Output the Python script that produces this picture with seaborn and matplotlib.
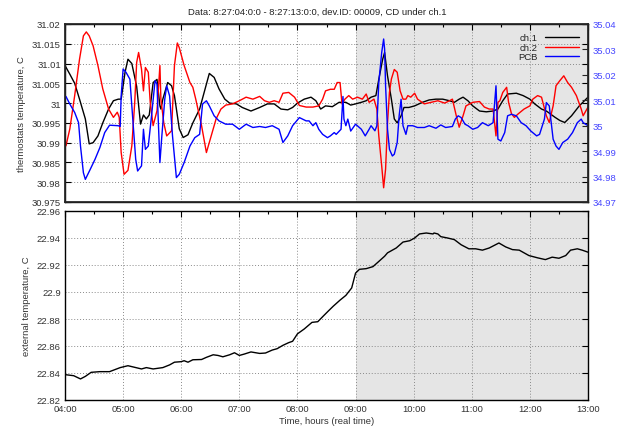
import numpy as np
import pandas as pd
import seaborn as sns
import matplotlib
matplotlib.use("Agg")
import matplotlib.pyplot as plt
from matplotlib.ticker import MultipleLocator, FuncFormatter

# ---------------- data (minutes after 04:00, values) ----------------
ch1_min = [0, 5, 10, 15, 21, 25, 29, 34, 39, 45, 50, 55, 58, 62, 65, 69, 74, 78, 81, 84, 87, 91, 95, 98, 99,
           101, 106, 110, 113, 118, 122, 127, 132, 139, 144, 149, 154, 159, 165, 170, 177, 183, 192, 201,
           209, 216, 223, 230, 235, 240, 247, 254, 259, 264, 269, 276, 283, 290, 295, 300, 306, 311, 316,
           321, 324, 328, 330, 333, 337, 340, 343, 347, 350, 355, 361, 369, 376, 383, 390, 397, 402, 407,
           411, 416, 421, 428, 435, 442, 447, 452, 457, 466, 473, 480, 485, 492, 497, 506, 511, 516, 523,
           531, 540]
ch1_val = [31.0095, 31.0073, 31.005, 31.001, 30.996, 30.9897, 30.990, 30.9917, 30.995, 30.9985, 31.0006,
           31.001, 31.001, 31.0078, 31.0111, 31.010, 31.0042, 30.9947, 30.997, 30.996, 30.997, 31.0052,
           31.006, 30.9993, 30.9985, 31.001, 31.0052, 31.0044, 31.0019, 30.9935, 30.9913, 30.992, 30.995,
           30.9985, 31.003, 31.0075, 31.0065, 31.0036, 31.001, 31.000, 30.9998, 30.9989, 30.998, 30.9989,
           30.9998, 30.9998, 30.9985, 30.9983, 30.9989, 31.0, 31.001, 31.0015, 31.0006, 30.9985, 30.9993,
           30.9991, 31.0002, 31.0002, 30.9995, 30.9998, 31.0002, 31.0006, 31.0015, 31.0019, 31.006, 31.0111,
           31.0128, 31.0069, 31.001, 30.996, 30.995, 30.9968, 30.9989, 30.9989, 30.9993, 31.0002, 31.0008,
           31.001, 31.001, 31.0006, 31.0002, 31.001, 31.0015, 31.0006, 30.9993, 30.998, 30.9978, 30.998,
           30.9985, 31.0006, 31.0023, 31.0025, 31.0019, 31.001, 30.9998, 30.9985, 30.998, 30.9964, 30.9956,
           30.9951, 30.9968, 30.9993, 31.0015]

ch2_min = [1, 5, 10, 15, 19, 22, 25, 29, 34, 39, 45, 50, 54, 56, 58, 61, 65, 69, 72, 74, 76, 79, 81, 83, 86,
           88, 91, 95, 98, 99, 102, 105, 110, 113, 116, 118, 123, 129, 132, 135, 141, 146, 151, 156, 161,
           166, 173, 180, 187, 194, 201, 206, 211, 216, 221, 225, 231, 237, 242, 249, 256, 262, 266, 269,
           274, 278, 281, 284, 286, 289, 293, 297, 302, 307, 311, 314, 319, 322, 324, 327, 329, 331, 333,
           335, 337, 340, 343, 346, 349, 352, 354, 357, 361, 364, 371, 378, 385, 392, 397, 400, 404, 407,
           411, 414, 421, 428, 433, 438, 442, 445, 447, 449, 452, 456, 458, 461, 464, 468, 474, 480, 483,
           488, 492, 497, 500, 504, 507, 511, 515, 519, 523, 528, 533, 535, 540]
ch2_val = [30.9892, 30.9935, 31.0019, 31.0111, 31.017, 31.018, 31.017, 31.0145, 31.0095, 31.0036, 30.9985,
           30.9964, 30.9977, 30.9964, 30.9875, 30.982, 30.983, 30.9892, 31.0002, 31.0103, 31.0128, 31.0086,
           31.0031, 31.009, 31.0078, 31.0002, 30.9943, 30.9981, 31.0095, 31.001, 30.995, 30.9917, 30.993,
           31.0095, 31.0152, 31.014, 31.0095, 31.0052, 31.004, 31.001, 30.9943, 30.9875, 30.9917, 30.996,
           30.9985, 30.9995, 30.9998, 31.0006, 31.0015, 31.001, 31.0017, 31.0006, 31.0002, 31.0006, 31.0002,
           31.0025, 31.0027, 31.0015, 30.9994, 30.999, 30.999, 30.9993, 31.001, 31.0031, 31.0035, 31.0035,
           31.0052, 31.0052, 30.9998, 31.001, 31.0019, 31.001, 31.0015, 31.001, 31.0023, 31.0002, 31.001,
           30.9985, 30.9917, 30.9841, 30.9786, 30.9833, 30.995, 31.0027, 31.0061, 31.0085, 31.0078, 31.0031,
           31.001, 31.001, 31.0019, 31.0015, 31.0025, 31.001, 30.9998, 31.0002, 31.0006, 31.0, 31.0006,
           31.001, 30.9968, 30.9939, 30.9968, 30.9993, 31.0002, 31.0004, 30.999, 30.9985, 30.9985, 30.9917,
           31.0002, 31.0006, 31.0027, 31.004, 31.0002, 30.9973, 30.9964, 30.9973, 30.9985, 30.9993, 31.001,
           31.0019, 31.0015, 30.9968, 30.9951, 30.9993, 31.0044, 31.0057, 31.0069, 31.0052, 31.004, 31.0019,
           30.9985, 30.9968, 30.999]

pcb_min = [1, 5, 10, 14, 16, 19, 21, 26, 31, 36, 41, 46, 55, 57, 58, 60, 63, 67, 70, 73, 75, 79, 81, 83, 86,
           89, 93, 95, 96, 98, 100, 103, 105, 108, 111, 115, 118, 123, 129, 134, 139, 142, 146, 149, 154,
           159, 166, 173, 180, 187, 194, 201, 207, 214, 221, 225, 230, 235, 242, 249, 252, 256, 259, 262,
           266, 271, 274, 278, 280, 285, 287, 288, 290, 292, 295, 300, 306, 310, 314, 316, 320, 322, 324,
           327, 329, 330, 331, 333, 335, 338, 340, 343, 345, 347, 349, 352, 354, 359, 364, 371, 376, 383,
           388, 393, 400, 403, 406, 409, 413, 416, 421, 426, 431, 437, 442, 445, 447, 450, 454, 457, 461,
           466, 471, 476, 481, 487, 490, 495, 497, 500, 504, 507, 510, 514, 519, 524, 529, 533, 535, 540]
pcb_val = [35.0115, 35.0085, 35.0052, 35.0012, 34.992, 34.9815, 34.9789, 34.9828, 34.9868, 34.9914, 34.9973,
           35.0002, 35.0, 34.9997, 35.0117, 35.0223, 35.021, 35.0183, 35.0026, 34.9868, 34.9822, 34.9842,
           34.9986, 34.9907, 34.992, 35.0026, 35.0177, 35.0163, 35.0052, 34.9855, 34.996, 35.0104, 35.0157,
           35.0117, 34.996, 34.9796, 34.9809, 34.9855, 34.992, 34.9953, 34.9966, 35.0085, 35.0098, 35.0078,
           35.0039, 35.0019, 35.0006, 35.0006, 34.9986, 35.0006, 34.9993, 34.9997, 34.9993, 35.0, 34.9986,
           34.9934, 34.996, 35.0, 35.0032, 35.0019, 35.0019, 35.0, 35.0012, 34.9986, 34.9966, 34.9953,
           34.996, 34.9973, 34.9966, 34.9986, 35.0115, 35.0026, 35.0, 35.0026, 34.9979, 35.0006, 34.9986,
           34.996, 34.9986, 35.0, 34.998, 35.0, 35.017, 35.0288, 35.0341, 35.0301, 35.0157, 34.9986, 34.9907,
           34.9881, 34.9888, 34.9934, 35.0039, 35.0104, 35.0, 34.9966, 35.0, 35.0, 34.9993, 34.9993, 35.0,
           34.999, 35.0003, 34.9993, 34.9997, 35.0026, 35.0039, 35.0032, 35.0006, 35.0, 34.9986, 34.9993,
           35.0012, 35.0, 35.0012, 35.0157, 34.9947, 34.994, 34.9973, 35.0039, 35.0045, 35.0039, 35.0012,
           35.0, 34.9979, 34.996, 34.9966, 35.0026, 35.0091, 35.0078, 34.9947, 34.992, 34.9907, 34.9934,
           34.9947, 34.9973, 35.0012, 35.0026, 35.0012, 35.0]

ext_min = [0, 9, 16, 21, 27, 36, 46, 57, 65, 72, 79, 84, 91, 101, 108, 113, 120, 123, 127, 132, 141, 146,
           153, 158, 163, 170, 175, 180, 185, 192, 201, 207, 214, 219, 225, 231, 235, 240, 247, 255, 261,
           267, 272, 277, 284, 290, 296, 300, 304, 311, 318, 323, 330, 333, 342, 349, 356, 361, 366, 373,
           380, 381, 385, 388, 395, 402, 409, 417, 424, 431, 438, 448, 455, 462, 469, 479, 488, 496, 503,
           510, 517, 522, 529, 534, 540]
ext_val = [22.8388, 22.838, 22.8356, 22.8375, 22.8405, 22.841, 22.841, 22.844, 22.8454, 22.8442, 22.843,
           22.844, 22.843, 22.844, 22.846, 22.848, 22.8484, 22.8491, 22.848, 22.8498, 22.850, 22.8516,
           22.8535, 22.853, 22.852, 22.8535, 22.855, 22.853, 22.854, 22.8556, 22.8545, 22.8548, 22.857,
           22.858, 22.8605, 22.8625, 22.8635, 22.869, 22.8726, 22.8775, 22.878, 22.8824, 22.886, 22.8895,
           22.894, 22.8975, 22.903, 22.914, 22.9168, 22.9173, 22.9188, 22.922, 22.9265, 22.929, 22.9326,
           22.937, 22.938, 22.94, 22.943, 22.9437, 22.943, 22.9437, 22.943, 22.941, 22.940, 22.9388, 22.935,
           22.932, 22.932, 22.931, 22.9326, 22.9363, 22.9334, 22.9314, 22.931, 22.927, 22.9253, 22.924,
           22.9258, 22.925, 22.927, 22.931, 22.932, 22.931, 22.9295]

series_labels = ["ch.1", "ch.2", "PCB"]
title_text = "Data: 8:27:04:0:0 - 8:27:13:0:0, dev.ID: 00009, CD under ch.1"
x_tick_labels = ["04:00", "05:00", "06:00", "07:00", "08:00", "09:00", "10:00", "11:00", "12:00", "13:00"]

# ---------------- styling ----------------
sns.set_theme(style="white")
plt.rcParams['font.family'] = ['Liberation Sans', 'DejaVu Sans']
FS = 6.8

def hours(m):
    return 4.0 + np.asarray(m, dtype=float) / 60.0

fig = plt.figure(figsize=(6.34, 4.27), dpi=100)
L, W = 65 / 634, (588 - 65) / 634
ax1 = fig.add_axes([L, 1 - 203 / 427, W, (203 - 25) / 427])
ax3 = fig.add_axes([L, 1 - 401 / 427, W, (401 - 212) / 427])
ax2 = ax1.twinx()

grid_kw = dict(color="#8a8a8a", linestyle=(0, (1, 2)), linewidth=0.7)

for ax in (ax1, ax3):
    ax.axvspan(9, 13, color="#e5e5e5", zorder=-1, lw=0)
    ax.set_xlim(4, 13)
    ax.xaxis.set_major_locator(MultipleLocator(1))
    ax.xaxis.set_minor_locator(MultipleLocator(0.5))
    ax.grid(True, which="major", **grid_kw)
    ax.tick_params(which="both", direction="in", top=True, right=True, labelsize=FS, pad=3,
                   colors="black", labelcolor="#333333")
    ax.tick_params(which="major", length=4, width=0.8)
    ax.tick_params(which="minor", length=2, width=0.8)
    for s in ax.spines.values():
        s.set_linewidth(1.0)
        s.set_color("black")

fmt_g = FuncFormatter(lambda v, p: "%g" % round(v, 4))

# top panel
sns.lineplot(x=hours(ch1_min), y=ch1_val, ax=ax1, color="black", lw=1.0, estimator=None, sort=False)
sns.lineplot(x=hours(ch2_min), y=ch2_val, ax=ax1, color="#ff0000", lw=1.0, estimator=None, sort=False)
sns.lineplot(x=hours(pcb_min), y=pcb_val, ax=ax2, color="#0000ff", lw=1.0, estimator=None, sort=False)

ax1.set_ylim(30.975, 31.02)
ax1.yaxis.set_major_locator(MultipleLocator(0.005))
ax1.yaxis.set_major_formatter(fmt_g)
ax1.set_xticklabels([])
ax1.tick_params(axis="x", which="both", labelbottom=False)
ax1.set_ylabel("thermostats temperature, C", fontsize=FS, color="#333333")
ax1.yaxis.set_label_coords(-0.074, 0.5)

ax2.set_ylim(34.97, 35.04)
ax2.yaxis.set_major_locator(MultipleLocator(0.01))
ax2.yaxis.set_major_formatter(fmt_g)
ax2.tick_params(axis="y", direction="in", length=4, width=0.8, labelsize=FS, labelcolor="#4646ff", pad=3)
ax2.set_ylabel("")
ax2.grid(False)

leg = ax2.legend([ax1.lines[0], ax1.lines[1], ax2.lines[0]], series_labels, loc="upper right",
                 frameon=False, markerfirst=False, fontsize=FS, handlelength=3.6, handletextpad=0.7,
                 labelspacing=0.05, borderaxespad=0.6, bbox_to_anchor=(1.0, 1.0))
for t in leg.get_texts():
    t.set_color("#222222")

# bottom panel
sns.lineplot(x=hours(ext_min), y=ext_val, ax=ax3, color="black", lw=1.0, estimator=None, sort=False)
ax3.set_ylim(22.82, 22.96)
ax3.yaxis.set_major_locator(MultipleLocator(0.02))
ax3.yaxis.set_major_formatter(fmt_g)
ax3.set_xticks(np.arange(4, 14, 1))
ax3.set_xticklabels(x_tick_labels)
ax3.set_ylabel("external temperature, C", fontsize=FS, color="#333333")
ax3.yaxis.set_label_coords(-0.065, 0.5)
ax3.set_xlabel("Time, hours (real time)", fontsize=FS, color="#333333", labelpad=2)

fig.text(0.5, 1 - 12 / 427, title_text, ha="center", va="center", fontsize=FS, color="#222222")

fig.savefig("out.png", dpi=100)
